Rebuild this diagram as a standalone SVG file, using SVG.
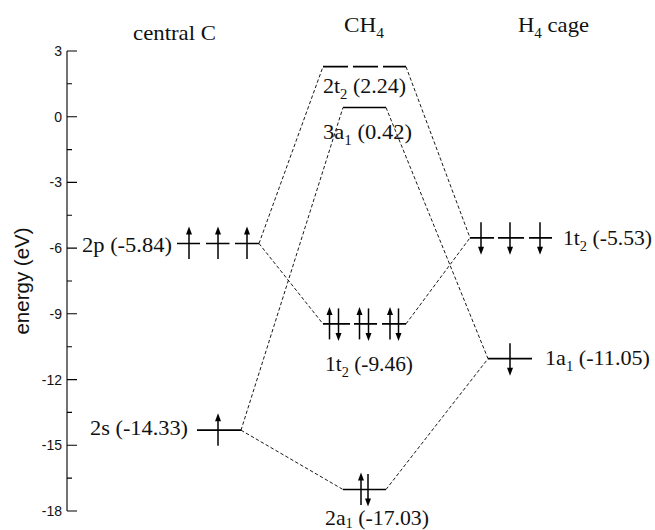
<svg xmlns="http://www.w3.org/2000/svg" xmlns:xlink="http://www.w3.org/1999/xlink" width="655" height="530" viewBox="0 0 655 530">
<style>
.lvl{stroke:#000;stroke-width:1.7;fill:none}
.ax{stroke:#000;stroke-width:1.1;fill:none}
.con line{stroke:#000;stroke-width:0.9;stroke-dasharray:3.5,2.2;fill:none}
.arr line{stroke:#000;stroke-width:1.5}
.arr path{fill:#000;stroke:none}
.t{font-family:"Liberation Serif","Times New Roman",serif;font-size:21px;fill:#111}
.sub{font-size:14px}
.tick{font-family:"Liberation Sans",Arial,sans-serif;font-size:14px;fill:#111;text-anchor:end}
.yl{font-family:"Liberation Sans",Arial,sans-serif;font-size:20.5px;fill:#111;text-anchor:middle}
</style>
<defs>
<g id="up" class="arr"><line x1="0" y1="-10" x2="0" y2="15.5"/><path d="M-3,-9 L3,-9 L0,-17 Z"/></g>
<g id="dn" class="arr"><line x1="0" y1="-15.5" x2="0" y2="10"/><path d="M-3,9 L3,9 L0,17 Z"/></g>
</defs>
<rect width="655" height="530" fill="#fff"/>

<g id="axis">
<path class="ax" d="M67,51 V511 M67,51 H77 M67,116.7 H77 M67,182.4 H77 M67,248.1 H77 M67,313.8 H77 M67,379.6 H77 M67,445.3 H77 M67,511 H77 M67,83.8 H72 M67,149.6 H72 M67,215.3 H72 M67,281 H72 M67,346.7 H72 M67,412.4 H72 M67,478.1 H72"/>
<text class="tick" x="62" y="56">3</text>
<text class="tick" x="62" y="121.7">0</text>
<text class="tick" x="62" y="187.4">-3</text>
<text class="tick" x="62" y="253.1">-6</text>
<text class="tick" x="62" y="318.8">-9</text>
<text class="tick" x="62" y="384.6">-12</text>
<text class="tick" x="62" y="450.3">-15</text>
<text class="tick" x="62" y="516">-18</text>
<text class="yl" transform="translate(29,281) rotate(-90)">energy (eV)</text>
</g>

<g id="headers">
<text class="t" x="133" y="40" textLength="83" lengthAdjust="spacingAndGlyphs">central C</text>
<text class="t" x="344" y="32" textLength="40" lengthAdjust="spacingAndGlyphs">CH<tspan class="sub" dy="6">4</tspan></text>
<text class="t" x="518" y="32" textLength="71" lengthAdjust="spacingAndGlyphs">H<tspan class="sub" dy="6">4</tspan><tspan dy="-6"> cage</tspan></text>
</g>

<g id="connectors" class="con">
<line x1="259" y1="243.5" x2="323" y2="66.7"/>
<line x1="259" y1="243.5" x2="323" y2="323.9"/>
<line x1="241" y1="430.2" x2="343" y2="107.5"/>
<line x1="241" y1="430.2" x2="343" y2="489.5"/>
<line x1="406" y1="66.7" x2="470" y2="237.8"/>
<line x1="406" y1="323.9" x2="470" y2="237.8"/>
<line x1="386" y1="107.5" x2="488" y2="358.7"/>
<line x1="386" y1="489.5" x2="488" y2="358.7"/>
</g>

<g id="C-2p">
<path class="lvl" d="M177,243.5 H200 M206,243.5 H229.5 M235,243.5 H259"/>
<use xlink:href="#up" x="189" y="243.5"/>
<use xlink:href="#up" x="218" y="243.5"/>
<use xlink:href="#up" x="247" y="243.5"/>
<text class="t" x="82" y="251.5" textLength="90" lengthAdjust="spacingAndGlyphs">2p (-5.84)</text>
</g>

<g id="C-2s">
<path class="lvl" d="M197,430.2 H241"/>
<use xlink:href="#up" x="218" y="430.2"/>
<text class="t" x="90" y="435" textLength="98" lengthAdjust="spacingAndGlyphs">2s (-14.33)</text>
</g>

<g id="CH4-2t2">
<path class="lvl" d="M323,66.7 H348 M353,66.7 H378 M383,66.7 H406"/>
<text class="t" x="323" y="93" textLength="83" lengthAdjust="spacingAndGlyphs">2t<tspan class="sub" dy="6">2</tspan><tspan dy="-6"> (2.24)</tspan></text>
</g>

<g id="CH4-3a1">
<path class="lvl" d="M343,107.5 H386"/>
<text class="t" x="323" y="139" textLength="89" lengthAdjust="spacingAndGlyphs">3a<tspan class="sub" dy="6">1</tspan><tspan dy="-6"> (0.42)</tspan></text>
</g>

<g id="CH4-1t2">
<path class="lvl" d="M323,323.9 H350 M354,323.9 H377 M382,323.9 H406"/>
<use xlink:href="#up" x="329.5" y="323.9"/>
<use xlink:href="#dn" x="338.5" y="323.9"/>
<use xlink:href="#up" x="359.5" y="323.9"/>
<use xlink:href="#dn" x="368.5" y="323.9"/>
<use xlink:href="#up" x="390" y="323.9"/>
<use xlink:href="#dn" x="398.5" y="323.9"/>
<text class="t" x="325" y="371" textLength="88" lengthAdjust="spacingAndGlyphs">1t<tspan class="sub" dy="6">2</tspan><tspan dy="-6"> (-9.46)</tspan></text>
</g>

<g id="CH4-2a1">
<path class="lvl" d="M343,489.5 H386"/>
<use xlink:href="#up" x="361" y="489.5"/>
<use xlink:href="#dn" x="368" y="489.5"/>
<text class="t" x="325" y="525" textLength="104" lengthAdjust="spacingAndGlyphs">2a<tspan class="sub" font-size="12" dy="3">1</tspan><tspan dy="-3"> (-17.03)</tspan></text>
</g>

<g id="H4-1t2">
<path class="lvl" d="M470,237.8 H494 M498,237.8 H524 M529,237.8 H552"/>
<use xlink:href="#dn" x="481" y="237.8"/>
<use xlink:href="#dn" x="510" y="237.8"/>
<use xlink:href="#dn" x="540" y="237.8"/>
<text class="t" x="563" y="245" textLength="89" lengthAdjust="spacingAndGlyphs">1t<tspan class="sub" dy="6">2</tspan><tspan dy="-6"> (-5.53)</tspan></text>
</g>

<g id="H4-1a1">
<path class="lvl" d="M488,358.7 H532"/>
<use xlink:href="#dn" x="510" y="358.7"/>
<text class="t" x="545" y="365" textLength="105" lengthAdjust="spacingAndGlyphs">1a<tspan class="sub" dy="6">1</tspan><tspan dy="-6"> (-11.05)</tspan></text>
</g>
</svg>
